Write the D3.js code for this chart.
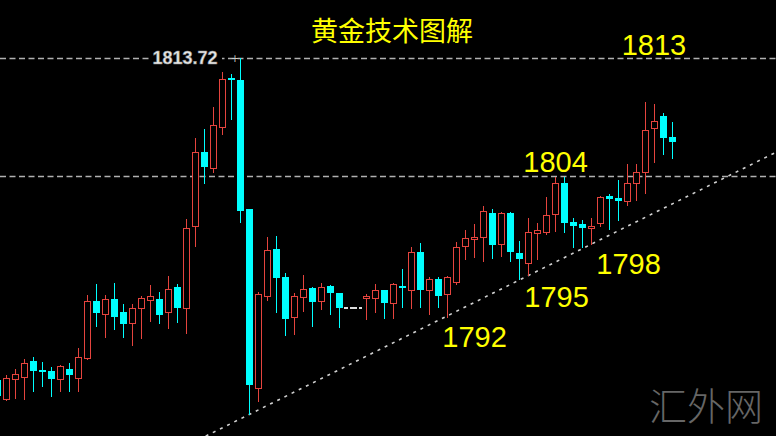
<!DOCTYPE html>
<html>
<head>
<meta charset="utf-8">
<script src="https://cdn.jsdelivr.net/npm/d3@7"></script>
<style>
  html, body { margin: 0; padding: 0; background: #000; }
  svg { display: block; }
</style>
</head>
<body>
<svg class="chart" width="776" height="436"></svg>
<script>
// candle data (prices)
const opens = [
  1787.20, 1785.63, 1787.28, 1787.44, 1788.76, 1788.02, 1787.94, 1787.28, 1788.10, 1787.36,
  1789.01, 1793.70, 1792.63, 1793.87, 1792.80, 1791.89, 1793.13, 1793.79, 1793.87, 1792.80,
  1794.86, 1793.13, 1799.88, 1805.98, 1804.66, 1808.04, 1812.07, 1811.91, 1801.28, 1786.54,
  1794.12, 1797.99, 1795.68, 1792.39, 1794.03, 1794.77, 1793.70, 1794.94, 1794.36, 1793.13,
  1793.13, 1793.95, 1793.95, 1794.61, 1793.54, 1794.94, 1794.61, 1797.74, 1794.61, 1795.52,
  1794.28, 1795.27, 1798.23, 1798.89, 1798.98, 1800.95, 1798.40, 1800.95, 1797.66, 1796.83,
  1799.30, 1799.39, 1800.87, 1803.42, 1800.21, 1800.05, 1799.72, 1800.13, 1802.35, 1802.19,
  1801.94, 1803.42, 1804.33, 1807.95, 1808.94, 1807.21
];
const highs = [
  1787.36, 1787.61, 1788.10, 1788.93, 1789.09, 1788.68, 1788.27, 1788.43, 1788.60, 1789.83,
  1794.20, 1795.10, 1794.20, 1795.19, 1793.46, 1793.46, 1794.12, 1795.02, 1794.45, 1795.76,
  1795.10, 1800.46, 1807.13, 1807.87, 1809.68, 1812.57, 1812.40, 1813.72, 1801.28, 1794.45,
  1798.98, 1799.06, 1796.01, 1794.36, 1795.85, 1794.86, 1795.19, 1795.02, 1794.36, 1793.13,
  1793.13, 1794.28, 1795.10, 1794.61, 1795.19, 1796.34, 1798.15, 1798.48, 1795.68, 1795.68,
  1795.76, 1798.56, 1799.55, 1800.05, 1801.53, 1801.28, 1801.03, 1801.03, 1798.65, 1800.54,
  1800.13, 1802.27, 1803.92, 1803.92, 1800.54, 1800.38, 1800.54, 1802.35, 1802.52, 1803.67,
  1804.99, 1804.99, 1810.10, 1809.93, 1809.19, 1808.45
];
const lows = [
  1785.55, 1785.47, 1785.63, 1785.55, 1786.21, 1786.62, 1785.80, 1786.21, 1786.21, 1786.21,
  1788.84, 1791.56, 1790.66, 1791.31, 1790.66, 1790.00, 1790.57, 1791.97, 1791.81, 1791.40,
  1791.89, 1790.99, 1798.15, 1803.34, 1804.25, 1807.38, 1808.61, 1800.13, 1784.31, 1785.38,
  1793.70, 1792.72, 1790.82, 1790.90, 1792.80, 1791.56, 1792.96, 1792.55, 1791.48, 1793.13,
  1793.13, 1792.14, 1792.72, 1792.22, 1792.22, 1793.13, 1793.04, 1793.13, 1792.55, 1793.13,
  1792.30, 1795.02, 1797.08, 1797.25, 1796.92, 1797.16, 1797.33, 1796.92, 1795.43, 1795.76,
  1797.08, 1799.14, 1799.39, 1799.30, 1798.07, 1798.07, 1798.32, 1799.80, 1799.55, 1800.29,
  1801.53, 1801.94, 1802.52, 1805.07, 1805.73, 1805.40
];
const closes = [
  1785.88, 1787.36, 1787.69, 1788.60, 1787.94, 1787.94, 1787.28, 1788.35, 1787.61, 1789.09,
  1793.70, 1792.72, 1793.87, 1792.39, 1791.81, 1793.13, 1793.95, 1794.12, 1792.55, 1794.69,
  1793.13, 1799.72, 1805.98, 1804.74, 1808.20, 1811.99, 1811.91, 1801.12, 1786.78, 1794.28,
  1797.90, 1795.60, 1792.22, 1794.12, 1794.69, 1793.62, 1794.86, 1794.36, 1793.13, 1793.13,
  1793.13, 1794.12, 1794.61, 1793.54, 1795.10, 1794.77, 1797.74, 1794.61, 1795.52, 1794.12,
  1795.68, 1798.15, 1798.89, 1798.98, 1801.12, 1798.32, 1800.95, 1797.74, 1797.16, 1799.39,
  1799.55, 1800.79, 1803.42, 1800.13, 1799.88, 1799.72, 1799.88, 1802.27, 1802.11, 1801.94,
  1803.42, 1804.33, 1807.79, 1808.53, 1807.13, 1806.80
];

// horizontal levels
const levels = [1813.72, 1804];
const peakLabel = "1813.72";

// support trend line anchors (candle index, price)
const trendIdx = [27.9, 77];
const trendPrice = [1784.31, 1802.43];

// annotations (candle index, price at baseline)
const noteTexts = ["1813", "1804", "1798", "1795", "1792"];
const noteIdx = [73.0, 62.06, 70.17, 62.17, 53.06];
const notePrice = [1813.97, 1804.33, 1795.93, 1793.21, 1789.91];

const title = "黄金技术图解";
const watermark = "汇外网";

const width = 776;
const height = 436;

const candles = opens.map((o, i) => ({
  i: i,
  open: o,
  high: highs[i],
  low: lows[i],
  close: closes[i],
}));

const xScale = d3.scaleLinear().domain([0, 75]).range([-3, 672]);
const yScale = d3.scaleLinear().domain([1804, 1813.72]).range([176, 58]);

const svg = d3.select(".chart");

svg
  .append("rect")
  .attr("width", width)
  .attr("height", height)
  .attr("fill", "#000");

const red = "#e5443e";
const cyan = "#00ffff";

// level lines
svg
  .selectAll(".level")
  .data(levels)
  .enter()
  .append("line")
  .classed("level", true)
  .attr("x1", 0)
  .attr("x2", width)
  .attr("y1", (d) => Math.round(yScale(d)) + 0.5)
  .attr("y2", (d) => Math.round(yScale(d)) + 0.5)
  .attr("stroke", "#b0b0b0")
  .attr("stroke-width", 1.5)
  .attr("stroke-dasharray", "6,3.5");

// trend line, extended across the plot
const tSlope = (trendPrice[1] - trendPrice[0]) / (trendIdx[1] - trendIdx[0]);
const tAt = (i) => trendPrice[0] + tSlope * (i - trendIdx[0]);
const tStart = 20;
const tEnd = 90;
svg
  .append("line")
  .attr("x1", xScale(tStart))
  .attr("y1", yScale(tAt(tStart)))
  .attr("x2", xScale(tEnd))
  .attr("y2", yScale(tAt(tEnd)))
  .attr("stroke", "#d0d0d0")
  .attr("stroke-width", 1.6)
  .attr("stroke-dasharray", "3,5");

const g = svg.append("g").attr("shape-rendering", "crispEdges");

const cx = (d) => Math.round(xScale(d.i)) + 0.5;

// wicks
g.selectAll(".wick")
  .data(candles.filter((d) => d.high !== d.low))
  .enter()
  .append("line")
  .classed("wick", true)
  .attr("x1", cx)
  .attr("x2", cx)
  .attr("y1", (d) => yScale(d.high))
  .attr("y2", (d) => yScale(d.low))
  .attr("stroke", (d) => (d.close >= d.open ? red : cyan))
  .attr("stroke-width", 1);

// down candles: solid cyan
g.selectAll(".down")
  .data(candles.filter((d) => d.close < d.open))
  .enter()
  .append("rect")
  .classed("down", true)
  .attr("x", (d) => cx(d) - 3.5)
  .attr("width", 7)
  .attr("y", (d) => yScale(d.open))
  .attr("height", (d) => Math.max(2, yScale(d.close) - yScale(d.open)))
  .attr("fill", cyan);

// up candles: hollow red
g.selectAll(".up")
  .data(candles.filter((d) => d.close > d.open))
  .enter()
  .append("rect")
  .classed("up", true)
  .attr("x", (d) => cx(d) - 3)
  .attr("width", 6)
  .attr("y", (d) => Math.round(yScale(d.close)) + 0.5)
  .attr("height", (d) => Math.max(2, Math.round(yScale(d.open) - yScale(d.close))))
  .attr("fill", "#000")
  .attr("stroke", red)
  .attr("stroke-width", 1);

// flat bars
g.selectAll(".flat")
  .data(candles.filter((d) => d.high === d.low))
  .enter()
  .append("line")
  .classed("flat", true)
  .attr("x1", (d) => cx(d) - 4.5)
  .attr("x2", (d) => cx(d) + 4.5)
  .attr("y1", (d) => yScale(d.close))
  .attr("y2", (d) => yScale(d.close))
  .attr("stroke", "#dcdcdc")
  .attr("stroke-width", 2)
  .attr("stroke-dasharray", "4,2");

// peak price tag on the top level line
const peakY = Math.round(yScale(levels[0]));
svg
  .append("rect")
  .attr("x", 150)
  .attr("y", peakY - 8)
  .attr("width", 72)
  .attr("height", 16)
  .attr("fill", "#000");
svg
  .append("text")
  .attr("x", 185)
  .attr("y", peakY + 6)
  .attr("text-anchor", "middle")
  .attr("font-family", "'Liberation Sans', Arial, sans-serif")
  .attr("font-weight", "bold")
  .attr("font-size", 18)
  .attr("fill", "#e8e8e8")
  .attr("stroke", "#8a8a8a")
  .attr("stroke-width", 0.5)
  .text(peakLabel);
svg
  .append("text")
  .attr("x", 235)
  .attr("y", peakY + 4)
  .attr("text-anchor", "middle")
  .attr("font-family", "'DejaVu Sans', sans-serif")
  .attr("font-size", 10)
  .attr("fill", "#cccccc")
  .text("+");

// yellow price notes
svg
  .selectAll(".note")
  .data(noteTexts)
  .enter()
  .append("text")
  .classed("note", true)
  .attr("x", (d, i) => xScale(noteIdx[i]))
  .attr("y", (d, i) => yScale(notePrice[i]))
  .attr("text-anchor", "middle")
  .attr("font-family", "'Liberation Sans', Arial, sans-serif")
  .attr("font-size", 29)
  .attr("fill", "#ffff00")
  .text((d) => d);

// title
svg
  .append("text")
  .attr("x", 392)
  .attr("y", 41)
  .attr("text-anchor", "middle")
  .attr("font-family", "'Noto Sans CJK SC', sans-serif")
  .attr("font-size", 27)
  .attr("fill", "#ffff00")
  .text(title);

// watermark
svg
  .append("text")
  .attr("x", 706)
  .attr("y", 420)
  .attr("text-anchor", "middle")
  .attr("font-family", "'Noto Sans CJK SC', sans-serif")
  .attr("font-weight", 300)
  .attr("font-size", 38)
  .attr("fill", "#666666")
  .text(watermark);
</script>
</body>
</html>
